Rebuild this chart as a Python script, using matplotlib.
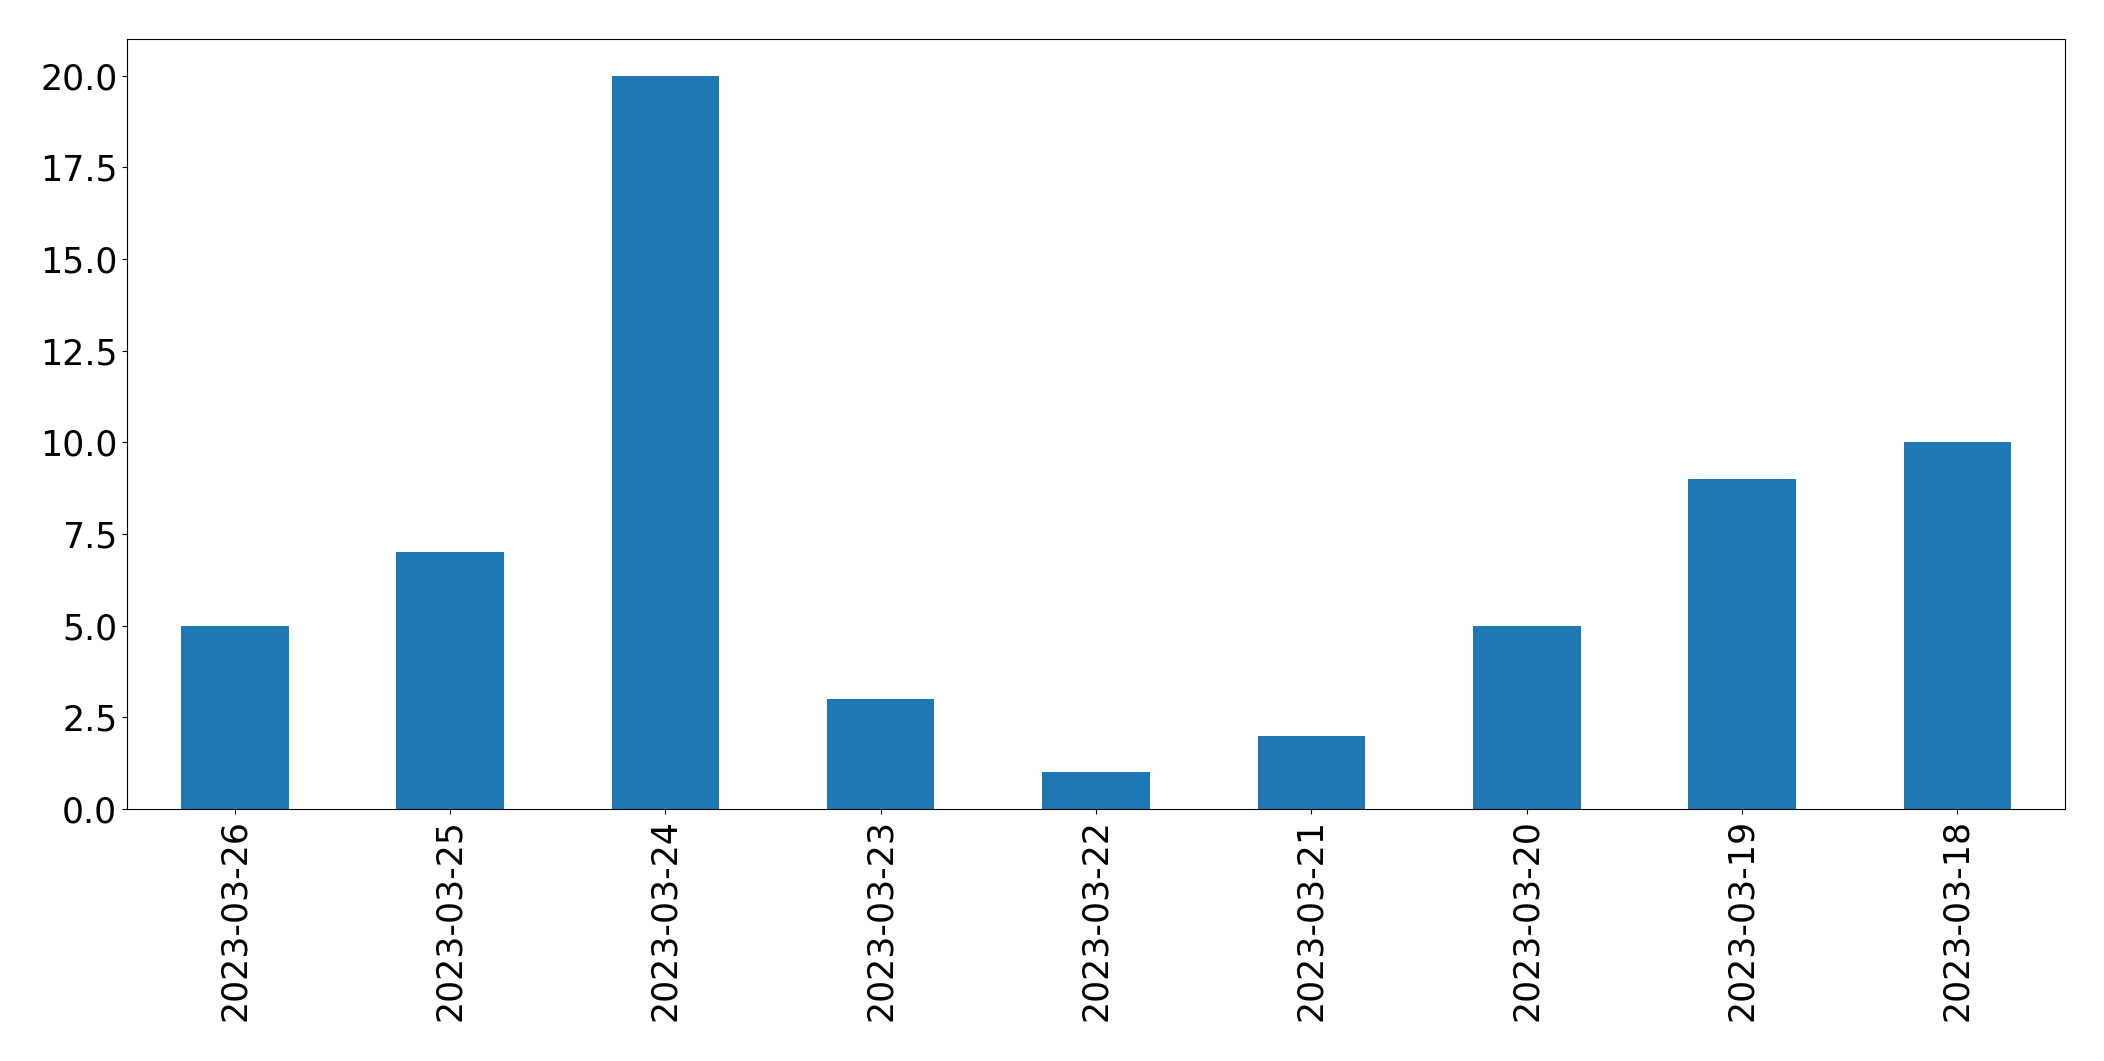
import matplotlib
matplotlib.use("Agg")
import matplotlib.pyplot as plt
import pandas as pd

# daily counts, newest first
dates = ["2023-03-26", "2023-03-25", "2023-03-24", "2023-03-23", "2023-03-22",
         "2023-03-21", "2023-03-20", "2023-03-19", "2023-03-18"]
counts = [5, 7, 20, 3, 1, 2, 5, 9, 10]

series = pd.Series(counts, index=dates)

fig, ax = plt.subplots(figsize=(21.04, 10.61), dpi=100)
series.plot(kind="bar", ax=ax, color="#1f77b4")
ax.tick_params(axis="both", labelsize=25)
plt.setp(ax.get_xticklabels(), rotation=90)
fig.subplots_adjust(left=127 / 2104, right=2065 / 2104, top=1 - 39 / 1061, bottom=1 - 809 / 1061)

fig.savefig("out.png", dpi=100)
